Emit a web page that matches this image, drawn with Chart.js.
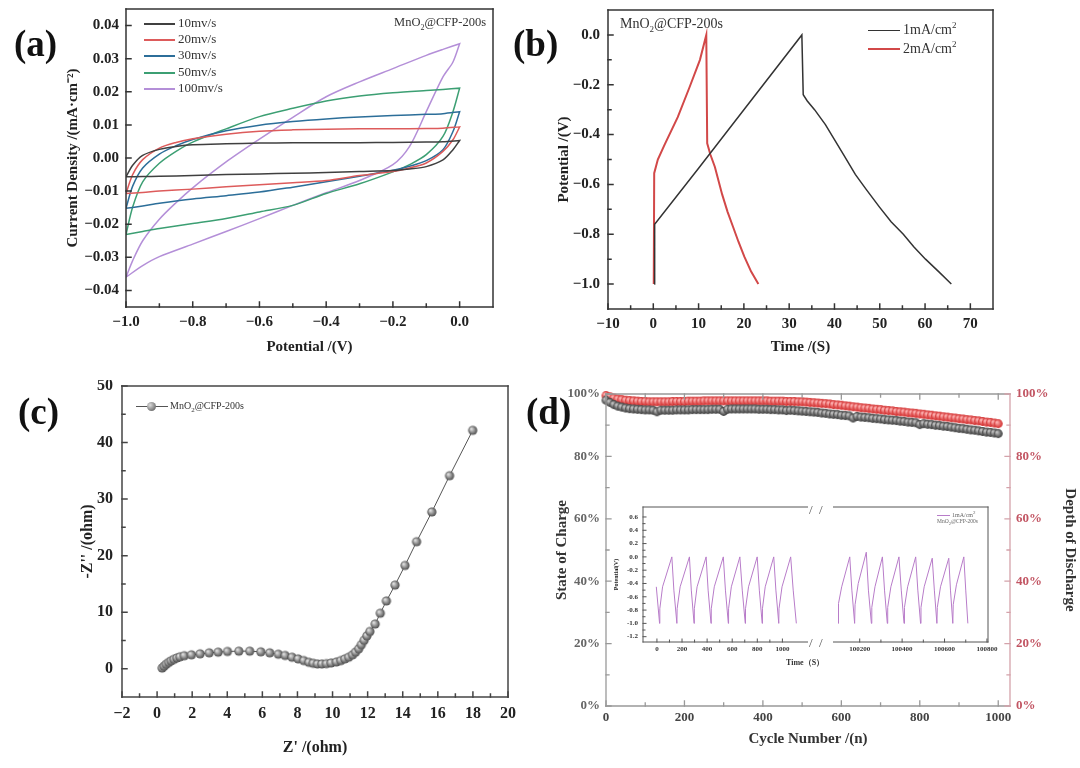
<!DOCTYPE html>
<html>
<head>
<meta charset="utf-8">
<title>MnO2@CFP-200s</title>
<script src="https://cdn.jsdelivr.net/npm/chart.js@4.4.1/dist/chart.umd.min.js"></script>
<style>
    body { margin: 0; background: #fff; font-family: "Liberation Serif", "Times New Roman", serif; }
    #page { position: relative; width: 1080px; height: 768px; overflow: hidden; }
    canvas { position: absolute; }
    .tag { position: absolute; font-weight: bold; font-size: 37px; line-height: 1; color: #111; }
    .txt { position: absolute; white-space: nowrap; line-height: 1; color: #333; }
    .leg { position: absolute; font-size: 13px; color: #333; white-space: nowrap; line-height: 13px; }
    .leg i { display: inline-block; width: 31px; height: 0; border-top: 2px solid; vertical-align: middle; margin-right: 3px; }
</style>
</head>
<body>
<div id="page">
    <canvas id="chartA" width="500" height="370" style="left:0;top:0"></canvas>
    <canvas id="chartB" width="580" height="370" style="left:500px;top:0"></canvas>
    <canvas id="chartC" width="540" height="388" style="left:0;top:380px"></canvas>
    <canvas id="chartD" width="540" height="388" style="left:540px;top:380px"></canvas>
    <canvas id="insetL" width="208" height="160" style="left:600px;top:500px"></canvas>
    <canvas id="insetR" width="177" height="160" style="left:833px;top:500px"></canvas>

    <div class="tag" style="left:14px;top:25px">(a)</div>
    <div class="tag" style="left:513px;top:25px">(b)</div>
    <div class="tag" style="left:18px;top:393px">(c)</div>
    <div class="tag" style="left:526px;top:393px">(d)</div>

    <!-- (a) legend -->
    <div class="leg" style="left:144px;top:16px"><i style="border-color:#404040"></i>10mv/s</div>
    <div class="leg" style="left:144px;top:32px"><i style="border-color:#dd5b5b"></i>20mv/s</div>
    <div class="leg" style="left:144px;top:48px"><i style="border-color:#2c6e99"></i>30mv/s</div>
    <div class="leg" style="left:144px;top:65px"><i style="border-color:#3c9f73"></i>50mv/s</div>
    <div class="leg" style="left:144px;top:81px"><i style="border-color:#b48fd8"></i>100mv/s</div>
    <div class="txt" style="left:380px;top:16px;width:106px;text-align:right;font-size:12.5px">MnO<sub style="font-size:8px">2</sub>@CFP-200s</div>

    <!-- (b) legend -->
    <div class="leg" style="left:868px;top:19px;font-size:14px"><i style="border-color:#333;width:32px;border-top-width:1.5px"></i>1mA/cm<sup style="font-size:9px">2</sup></div>
    <div class="leg" style="left:868px;top:38px;font-size:14px"><i style="border-color:#d24848;width:32px"></i>2mA/cm<sup style="font-size:9px">2</sup></div>
    <div class="txt" style="left:620px;top:17px;font-size:14px">MnO<sub style="font-size:9px">2</sub>@CFP-200s</div>

    <!-- (c) legend -->
    <div class="leg" style="left:136px;top:401px;font-size:10px;line-height:10px">
        <span style="display:inline-block;position:relative;width:32px;height:9px;vertical-align:middle;margin-right:2px">
            <span style="position:absolute;left:0;top:4px;width:32px;border-top:1px solid #555"></span>
            <span style="position:absolute;left:11px;top:0;width:9px;height:9px;border-radius:50%;background:radial-gradient(circle at 35% 35%,#dcdcdc,#4a4a4a)"></span>
        </span>MnO<sub style="font-size:7px">2</sub>@CFP-200s</div>

    <!-- (d) inset decorations -->
    <div class="txt" style="left:809px;top:503px;font-size:13px;color:#555">/&nbsp;&nbsp;/</div>
    <div class="txt" style="left:809px;top:636px;font-size:13px;color:#555">/&nbsp;&nbsp;/</div>
    <div class="txt" style="left:786px;top:659px;font-size:8px;font-weight:bold">Time（S）</div>
    <div class="txt" style="left:937px;top:510px;font-size:6px;color:#666"><i style="display:inline-block;width:13px;border-top:1px solid #b87cc9;vertical-align:middle;margin-right:2px"></i>1mA/cm<sup>2</sup></div>
    <div class="txt" style="left:937px;top:519px;font-size:5.5px;color:#666">MnO<sub>2</sub>@CFP-200s</div>
</div>

<script>
var SERIF = '"Liberation Serif", "Times New Roman", serif';
Chart.defaults.font.family = SERIF;
Chart.defaults.color = '#222';

// ---- (a) cyclic voltammetry ----
var aForwardV = [-1.0, -0.98, -0.95, -0.9, -0.85, -0.8, -0.7, -0.6, -0.5, -0.4, -0.3, -0.2, -0.1, -0.05, 0.0];
var aReverseV = [0.0, -0.02, -0.05, -0.1, -0.15, -0.2, -0.3, -0.4, -0.5, -0.6, -0.7, -0.8, -0.9, -0.95, -1.0];
var aFwd10 = [-0.0057, -0.0022, 0.0008, 0.0026, 0.0035, 0.004, 0.0043, 0.0045, 0.0046, 0.0046, 0.0046, 0.0047, 0.0048, 0.0049, 0.0053];
var aRev10 = [0.0053, 0.0025, -0.0006, -0.0026, -0.0033, -0.0038, -0.0041, -0.0044, -0.0046, -0.0048, -0.005, -0.0053, -0.0055, -0.0056, -0.0057];
var aFwd20 = [-0.0107, -0.005, -0.0005, 0.003, 0.0047, 0.0058, 0.0072, 0.0081, 0.0085, 0.0087, 0.0088, 0.0088, 0.0089, 0.009, 0.0094];
var aRev20 = [0.0094, 0.0055, 0.002, -0.0015, -0.003, -0.0041, -0.0053, -0.0068, -0.0075, -0.0081, -0.0087, -0.0094, -0.01, -0.0104, -0.0107];
var aFwd30 = [-0.0152, -0.0085, -0.003, 0.0012, 0.0037, 0.0056, 0.0082, 0.0099, 0.011, 0.0118, 0.0124, 0.0128, 0.0132, 0.0134, 0.014];
var aRev30 = [0.014, 0.008, 0.0025, -0.0008, -0.0025, -0.0037, -0.0055, -0.0072, -0.0088, -0.0103, -0.0114, -0.0124, -0.0137, -0.0145, -0.0152];
var aFwd50 = [-0.0231, -0.0148, -0.0072, -0.0016, 0.002, 0.0048, 0.0088, 0.0125, 0.015, 0.0172, 0.0187, 0.0197, 0.0204, 0.0207, 0.0211];
var aRev50 = [0.0211, 0.014, 0.0065, 0.001, -0.002, -0.0042, -0.0078, -0.0107, -0.0143, -0.0163, -0.0183, -0.0198, -0.0213, -0.0222, -0.0231];
var aFwd100 = [-0.036, -0.031, -0.025, -0.0185, -0.0135, -0.009, -0.0012, 0.0057, 0.0123, 0.0185, 0.023, 0.027, 0.031, 0.0328, 0.0345];
var aRev100 = [0.0345, 0.029, 0.0245, 0.014, 0.0035, -0.002, -0.0068, -0.0105, -0.0143, -0.0183, -0.0222, -0.026, -0.0298, -0.0325, -0.036];
var aRates = ['10mv/s', '20mv/s', '30mv/s', '50mv/s', '100mv/s'];
var aXTicks = [-1.0, -0.8, -0.6, -0.4, -0.2, 0.0];
var aYTicks = [-0.04, -0.03, -0.02, -0.01, 0.0, 0.01, 0.02, 0.03, 0.04];

// ---- (b) charge / discharge ----
var bTime1 = [0.2, 0.3, 10, 20, 32.8, 33.1, 34, 35.6, 38, 40, 42, 44.6, 47, 49.9, 52.5, 55.2, 57.5, 60.1, 63, 65.8];
var bVolt1 = [-1.0, -0.76, -0.535, -0.3, 0.0, -0.24, -0.265, -0.3, -0.36, -0.42, -0.48, -0.56, -0.62, -0.69, -0.75, -0.8, -0.85, -0.9, -0.95, -1.0];
var bTime2 = [0.1, 0.2, 1, 2.5, 5.4, 8, 10.3, 11.7, 11.9, 12.6, 13.6, 15.2, 16.4, 17.6, 18.8, 20.1, 21.6, 23.2];
var bVolt2 = [-1.0, -0.555, -0.5, -0.44, -0.33, -0.21, -0.1, 0.0, -0.435, -0.48, -0.53, -0.64, -0.71, -0.77, -0.83, -0.89, -0.95, -1.0];
var bXTicks = [-10, 0, 10, 20, 30, 40, 50, 60, 70];
var bYTicks = [-1.0, -0.8, -0.6, -0.4, -0.2, 0.0];

// ---- (c) Nyquist ----
var cZre = [0.29, 0.4, 0.52, 0.66, 0.8, 0.96, 1.13, 1.3, 1.55, 1.96, 2.45, 2.97, 3.48, 4.01, 4.66, 5.28, 5.91, 6.42, 6.91, 7.3, 7.69, 8.04, 8.36, 8.65, 8.9, 9.14, 9.39, 9.65, 9.92, 10.22, 10.47, 10.7, 10.92, 11.14, 11.31, 11.49, 11.64, 11.8, 11.96, 12.13, 12.43, 12.72, 13.07, 13.56, 14.13, 14.79, 15.66, 16.67, 17.99];
var cZim = [0.12, 0.45, 0.8, 1.12, 1.4, 1.66, 1.9, 2.1, 2.3, 2.46, 2.63, 2.81, 2.93, 3.05, 3.11, 3.11, 2.99, 2.81, 2.57, 2.34, 2.04, 1.74, 1.44, 1.14, 0.96, 0.84, 0.84, 0.9, 1.02, 1.2, 1.44, 1.74, 2.04, 2.46, 2.93, 3.53, 4.25, 5.03, 5.81, 6.59, 7.9, 9.82, 11.98, 14.79, 18.26, 22.46, 27.72, 34.13, 42.16];
var cXTicks = [-2, 0, 2, 4, 6, 8, 10, 12, 14, 16, 18, 20];
var cYTicks = [0, 10, 20, 30, 40, 50];

// ---- (d) cycling ----
var dCycle = [0, 10, 20, 30, 40, 50, 60, 70, 80, 90, 100, 110, 120, 130, 140, 150, 160, 170, 180, 190, 200, 210, 220, 230, 240, 250, 260, 270, 280, 290, 300, 310, 320, 330, 340, 350, 360, 370, 380, 390, 400, 410, 420, 430, 440, 450, 460, 470, 480, 490, 500, 510, 520, 530, 540, 550, 560, 570, 580, 590, 600, 610, 620, 630, 640, 650, 660, 670, 680, 690, 700, 710, 720, 730, 740, 750, 760, 770, 780, 790, 800, 810, 820, 830, 840, 850, 860, 870, 880, 890, 900, 910, 920, 930, 940, 950, 960, 970, 980, 990, 1000];
var dCharge = [98.0, 97.3, 96.6, 96.1, 95.8, 95.5, 95.3, 95.2, 95.1, 95.0,
    94.9, 94.9, 94.8, 94.3, 94.8, 94.8, 94.8, 94.8, 94.9, 94.9,
    94.9, 94.9, 95.0, 95.0, 95.0, 95.0, 95.0, 95.1, 95.1, 95.1,
    94.4, 95.1, 95.2, 95.2, 95.2, 95.2, 95.2, 95.2, 95.2, 95.1,
    95.1, 95.1, 95.0, 95.0, 94.9, 94.9, 94.7, 94.8, 94.7, 94.6,
    94.5, 94.4, 94.3, 94.2, 94.1, 93.9, 93.8, 93.6, 93.5, 93.4,
    93.2, 93.1, 93.0, 92.3, 92.8, 92.6, 92.5, 92.4, 92.2, 92.1,
    92.0, 91.8, 91.7, 91.6, 91.5, 91.3, 91.2, 91.0, 90.9, 90.8,
    90.2, 90.5, 90.3, 90.2, 90.0, 89.9, 89.7, 89.6, 89.4, 89.2,
    89.0, 88.9, 88.7, 88.5, 88.4, 88.2, 88.0, 87.8, 87.7, 87.5,
    87.3];
var dDischarge = [99.5, 99.1, 98.7, 98.4, 98.2, 98.0, 97.9, 97.8, 97.7, 97.6,
    97.6, 97.5, 97.5, 97.5, 97.5, 97.5, 97.5, 97.6, 97.6, 97.6,
    97.6, 97.7, 97.7, 97.7, 97.7, 97.8, 97.8, 97.8, 97.8, 97.8,
    97.8, 97.8, 97.8, 97.8, 97.8, 97.8, 97.8, 97.8, 97.8, 97.8,
    97.8, 97.8, 97.7, 97.7, 97.7, 97.7, 97.6, 97.6, 97.6, 97.5,
    97.5, 97.4, 97.3, 97.2, 97.1, 97.0, 96.9, 96.8, 96.6, 96.5,
    96.4, 96.2, 96.1, 95.9, 95.8, 95.6, 95.5, 95.4, 95.2, 95.1,
    95.0, 94.8, 94.7, 94.6, 94.4, 94.3, 94.2, 94.0, 93.9, 93.8,
    93.6, 93.5, 93.3, 93.2, 93.0, 92.9, 92.7, 92.6, 92.4, 92.3,
    92.1, 92.0, 91.8, 91.7, 91.5, 91.4, 91.2, 91.0, 90.9, 90.7,
    90.5];
var dXTicks = [0, 200, 400, 600, 800, 1000];
var dYTicks = [0, 20, 40, 60, 80, 100];

// ---- (d) inset, broken time axis ----
var inLeftTime = [-5, 21, 23, 45, 119, 135, 159, 161, 185, 259, 274, 296, 298, 320, 392, 408, 431, 433, 457, 529, 546, 569, 571, 593, 661, 680, 704, 706, 730, 799, 816, 839, 841, 863, 931, 948, 971, 973, 997, 1066, 1086, 1111];
var inLeftVolt = [-0.45, -1.0, -0.78, -0.45, 0.0, -0.5, -1.0, -0.78, -0.45, 0.0, -0.5, -1.0, -0.78, -0.45, 0.0, -0.5, -1.0, -0.78, -0.45, 0.0, -0.5, -1.0, -0.78, -0.45, 0.0, -0.5, -1.0, -0.78, -0.45, 0.0, -0.5, -1.0, -0.78, -0.45, 0.0, -0.5, -1.0, -0.78, -0.45, 0.0, -0.5, -1.0];
var inRightTime = [100098, 100100, 100115, 100153, 100163, 100176, 100178, 100193, 100231, 100241, 100255, 100257, 100272, 100307, 100317, 100330, 100332, 100347, 100385, 100396, 100409, 100411, 100426, 100464, 100474, 100487, 100489, 100504, 100542, 100552, 100564, 100566, 100581, 100620, 100628, 100639, 100641, 100656, 100691, 100700, 100710];
var inRightVolt = [-1.0, -0.7, -0.45, 0.0, -0.5, -1.0, -0.72, -0.4, 0.07, -0.5, -1.0, -0.76, -0.45, 0.0, -0.5, -1.0, -0.76, -0.45, 0.0, -0.5, -1.0, -0.76, -0.45, 0.0, -0.5, -1.0, -0.76, -0.45, -0.02, -0.5, -1.0, -0.76, -0.45, -0.02, -0.5, -1.0, -0.72, -0.42, 0.0, -0.5, -1.0];
var inLeftTicks = [0, 200, 400, 600, 800, 1000];
var inRightTicks = [100200, 100400, 100600, 100800];
var inYTicks = [-1.2, -1.0, -0.8, -0.6, -0.4, -0.2, 0.0, 0.2, 0.4, 0.6];

function toPoints(xs, ys) {
    return xs.map(function (x, i) { return { x: x, y: ys[i] }; });
}
function between(ticks) {
    var out = [];
    for (var i = 1; i < ticks.length; i++) out.push((ticks[i - 1] + ticks[i]) / 2);
    return out;
}
function minus(s) { return String(s).replace('-', '\u2212'); }

function makeBall(r, hi, lo) {
    var c = document.createElement('canvas');
    c.width = c.height = Math.ceil(r * 2) + 2;
    var g = c.getContext('2d'), m = c.width / 2;
    var grd = g.createRadialGradient(m - r * 0.35, m - r * 0.35, r * 0.1, m, m, r);
    grd.addColorStop(0, hi);
    grd.addColorStop(1, lo);
    g.fillStyle = grd;
    g.beginPath();
    g.arc(m, m, r, 0, Math.PI * 2);
    g.fill();
    return c;
}

// linear axis with fixed box size and tick values taken from an array
function axis(o) {
    return {
        type: 'linear',
        position: o.position,
        display: o.display !== false,
        min: o.min,
        max: o.max,
        grid: { display: false, drawTicks: false },
        border: { display: false },
        afterBuildTicks: function (scale) {
            scale.ticks = o.ticks.map(function (v) { return { value: v }; });
        },
        afterFit: function (scale) {
            if (scale.isHorizontal()) scale.height = o.size; else scale.width = o.size;
            // labels may overhang the plot box, do not let them shrink it
            scale.paddingTop = scale.paddingBottom = scale.paddingLeft = scale.paddingRight = 0;
        },
        ticks: {
            autoSkip: false, maxRotation: 0, minRotation: 0,
            font: { size: o.fontSize, weight: 'bold' },
            color: o.color || '#222',
            padding: o.pad,
            callback: o.fmt
        },
        title: {
            display: !!o.title,
            text: o.title,
            font: { size: o.titleSize || 15, weight: 'bold' },
            color: o.titleColor || '#222',
            padding: o.titlePad || 0
        }
    };
}

// box frame with inward tick marks
function framePlugin(cfg) {
    return {
        id: 'frame',
        afterDatasetsDraw: function (chart) {
            var ctx = chart.ctx, a = chart.chartArea;
            var lens = cfg.lens || [5, 3];
            ctx.save();
            ctx.lineWidth = cfg.width;
            ctx.lineCap = 'square';
            cfg.sides.forEach(function (s) {
                ctx.strokeStyle = s.color || cfg.color;
                ctx.beginPath();
                if (s.side === 'top') { ctx.moveTo(a.left, a.top); ctx.lineTo(a.right, a.top); }
                if (s.side === 'bottom') { ctx.moveTo(a.left, a.bottom); ctx.lineTo(a.right, a.bottom); }
                if (s.side === 'left') { ctx.moveTo(a.left, a.top); ctx.lineTo(a.left, a.bottom); }
                if (s.side === 'right') { ctx.moveTo(a.right, a.top); ctx.lineTo(a.right, a.bottom); }
                ctx.stroke();
                if (!s.scale) return;
                var sc = chart.scales[s.scale];
                ctx.beginPath();
                [[s.major, lens[0]], [s.minor || [], lens[1]]].forEach(function (set) {
                    set[0].forEach(function (v) {
                        var p = sc.getPixelForValue(v), len = set[1];
                        if (s.side === 'bottom') { ctx.moveTo(p, a.bottom); ctx.lineTo(p, a.bottom - len); }
                        if (s.side === 'top') { ctx.moveTo(p, a.top); ctx.lineTo(p, a.top + len); }
                        if (s.side === 'left') { ctx.moveTo(a.left, p); ctx.lineTo(a.left + len, p); }
                        if (s.side === 'right') { ctx.moveTo(a.right, p); ctx.lineTo(a.right - len, p); }
                    });
                });
                ctx.stroke();
            });
            ctx.restore();
        }
    };
}

var baseOptions = function (padding) {
    return {
        responsive: false,
        animation: false,
        events: [],
        layout: { padding: padding },
        plugins: { legend: { display: false }, tooltip: { enabled: false } }
    };
};

// ---------- (a) ----------
var aColors = ['#404040', '#dd5b5b', '#2c6e99', '#3c9f73', '#b48fd8'];
var aFwd = [aFwd10, aFwd20, aFwd30, aFwd50, aFwd100];
var aRev = [aRev10, aRev20, aRev30, aRev50, aRev100];
var optA = baseOptions({ top: 9, right: 7, left: 0, bottom: 0 });
optA.scales = {
    x: axis({ position: 'bottom', min: -1.0, max: 0.1, ticks: aXTicks, size: 63, fontSize: 15, pad: 6,
        fmt: function (v) { return minus(v.toFixed(1)); },
        title: 'Potential /(V)', titlePad: { bottom: 14 } }),
    y: axis({ position: 'left', min: -0.045, max: 0.045, ticks: aYTicks, size: 126, fontSize: 15, pad: 7,
        fmt: function (v) { return minus(v.toFixed(2)); },
        title: 'Current Density /(mA\u00B7cm\u207B\u00B2)', titlePad: { top: 64 } })
};
new Chart(document.getElementById('chartA'), {
    type: 'scatter',
    data: {
        datasets: aRates.map(function (name, i) {
            return {
                label: name,
                data: toPoints(aForwardV, aFwd[i]).concat(toPoints(aReverseV, aRev[i])),
                showLine: true, borderColor: aColors[i], borderWidth: 1.5,
                pointRadius: 0, tension: 0.3
            };
        })
    },
    options: optA,
    plugins: [framePlugin({ color: '#333', width: 1.5, sides: [
        { side: 'top' }, { side: 'right' },
        { side: 'bottom', scale: 'x', major: aXTicks, minor: between(aXTicks) },
        { side: 'left', scale: 'y', major: aYTicks, minor: [] }
    ] })]
});

// ---------- (b) ----------
var optB = baseOptions({ top: 10, right: 87, left: 0, bottom: 0 });
optB.scales = {
    x: axis({ position: 'bottom', min: -10, max: 75, ticks: bXTicks, size: 61, fontSize: 15, pad: 6,
        fmt: function (v) { return minus(v); },
        title: 'Time /(S)', titlePad: { bottom: 14 } }),
    y: axis({ position: 'left', min: -1.1, max: 0.1, ticks: bYTicks, size: 108, fontSize: 15, pad: 8,
        fmt: function (v) { return minus(v.toFixed(1)); },
        title: 'Potential /(V)', titlePad: { top: 55 } })
};
new Chart(document.getElementById('chartB'), {
    type: 'scatter',
    data: {
        datasets: [
            { label: '1mA/cm2', data: toPoints(bTime1, bVolt1), showLine: true, borderColor: '#333',
              borderWidth: 1.5, pointRadius: 0, tension: 0 },
            { label: '2mA/cm2', data: toPoints(bTime2, bVolt2), showLine: true, borderColor: '#d24848',
              borderWidth: 2, pointRadius: 0, tension: 0 }
        ]
    },
    options: optB,
    plugins: [framePlugin({ color: '#333', width: 1.5, sides: [
        { side: 'top' }, { side: 'right' },
        { side: 'bottom', scale: 'x', major: bXTicks, minor: between(bXTicks) },
        { side: 'left', scale: 'y', major: bYTicks, minor: between(bYTicks) }
    ] })]
});

// ---------- (c) ----------
var greyBall = makeBall(4.6, '#e2e2e2', '#4a4a4a');
var optC = baseOptions({ top: 6, right: 32, left: 0, bottom: 0 });
optC.scales = {
    x: axis({ position: 'bottom', min: -2, max: 20, ticks: cXTicks, size: 71, fontSize: 16, pad: 7,
        fmt: function (v) { return minus(v); },
        title: "Z' /(ohm)", titleSize: 16, titlePad: { bottom: 11 } }),
    y: axis({ position: 'left', min: -5, max: 50, ticks: cYTicks, size: 122, fontSize: 16, pad: 9,
        fmt: function (v) { return minus(v); },
        title: "-Z'' /(ohm)", titleSize: 16, titlePad: { top: 78 } })
};
new Chart(document.getElementById('chartC'), {
    type: 'scatter',
    data: {
        datasets: [{
            label: 'MnO2@CFP-200s', data: toPoints(cZre, cZim), showLine: true,
            borderColor: '#555', borderWidth: 1, pointStyle: greyBall, pointRadius: 4.6, clip: 6
        }]
    },
    options: optC,
    plugins: [framePlugin({ color: '#444', width: 1.5, sides: [
        { side: 'top' }, { side: 'right' },
        { side: 'bottom', scale: 'x', major: cXTicks, minor: between(cXTicks) },
        { side: 'left', scale: 'y', major: cYTicks, minor: between(cYTicks) }
    ] })]
});

// ---------- (d) ----------
var darkBall = makeBall(4.4, '#c4c4c4', '#3a3a3a');
var redBall = makeBall(4.4, '#ffb4b4', '#d02828');
var pct = function (v) { return v + '%'; };
var optD = baseOptions({ top: 14, right: 0, left: 0, bottom: 0 });
optD.scales = {
    x: axis({ position: 'bottom', min: 0, max: 1030, ticks: dXTicks, size: 62, fontSize: 13, pad: 4,
        color: '#444', fmt: function (v) { return String(v); },
        title: 'Cycle Number /(n)', titleColor: '#333', titlePad: { bottom: 20 } }),
    y: axis({ position: 'left', min: 0, max: 100, ticks: dYTicks, size: 66, fontSize: 13, pad: 6,
        color: '#666', fmt: pct, title: 'State of Charge', titleColor: '#333', titlePad: { top: 13 } }),
    y2: axis({ position: 'right', min: 0, max: 100, ticks: dYTicks, size: 70, fontSize: 13, pad: 6,
        color: '#c25563', fmt: pct, title: 'Depth of Discharge', titleColor: '#333', titlePad: { top: 1 } })
};
new Chart(document.getElementById('chartD'), {
    type: 'scatter',
    data: {
        datasets: [
            { label: 'State of Charge', data: toPoints(dCycle, dCharge), yAxisID: 'y',
              pointStyle: darkBall, pointRadius: 4.4, clip: 6 },
            { label: 'Depth of Discharge', data: toPoints(dCycle, dDischarge), yAxisID: 'y2',
              pointStyle: redBall, pointRadius: 4.4, clip: 6 }
        ]
    },
    options: optD,
    plugins: [framePlugin({ color: '#999', width: 1.3, sides: [
        { side: 'top', scale: 'x', major: dXTicks, minor: between(dXTicks) },
        { side: 'bottom', scale: 'x', major: dXTicks, minor: between(dXTicks) },
        { side: 'left', scale: 'y', major: dYTicks, minor: between(dYTicks) },
        { side: 'right', scale: 'y2', major: dYTicks, minor: between(dYTicks), color: '#d4a2aa' }
    ] })]
});

// ---------- (d) inset, two halves of a broken axis ----------
var insetLine = '#b87cc9';
var optL = baseOptions({ top: 7, right: 0, left: 0, bottom: 0 });
optL.scales = {
    x: axis({ position: 'bottom', min: -111, max: 1204, ticks: inLeftTicks, size: 18, fontSize: 7, pad: 3,
        color: '#333', fmt: function (v) { return String(v); } }),
    y: axis({ position: 'left', min: -1.28, max: 0.75, ticks: inYTicks, size: 43, fontSize: 7, pad: 5,
        color: '#333', fmt: function (v) { return v.toFixed(1); },
        title: 'Potential(V)', titleSize: 6, titlePad: { top: 13 } })
};
new Chart(document.getElementById('insetL'), {
    type: 'scatter',
    data: { datasets: [{ label: '1mA/cm2', data: toPoints(inLeftTime, inLeftVolt), showLine: true,
        borderColor: insetLine, borderWidth: 1, pointRadius: 0 }] },
    options: optL,
    plugins: [framePlugin({ color: '#555', width: 1, lens: [3, 2], sides: [
        { side: 'top' },
        { side: 'bottom', scale: 'x', major: inLeftTicks, minor: between(inLeftTicks) },
        { side: 'left', scale: 'y', major: inYTicks, minor: between(inYTicks) }
    ] })]
});

var optR = baseOptions({ top: 7, right: 22, left: 0, bottom: 0 });
optR.scales = {
    x: axis({ position: 'bottom', min: 100074, max: 100805, ticks: inRightTicks, size: 18, fontSize: 7, pad: 3,
        color: '#333', fmt: function (v) { return String(v); } }),
    y: axis({ position: 'left', display: false, min: -1.28, max: 0.75, ticks: inYTicks, size: 0, fontSize: 7, pad: 0 })
};
new Chart(document.getElementById('insetR'), {
    type: 'scatter',
    data: { datasets: [{ label: '1mA/cm2', data: toPoints(inRightTime, inRightVolt), showLine: true,
        borderColor: insetLine, borderWidth: 1, pointRadius: 0 }] },
    options: optR,
    plugins: [framePlugin({ color: '#555', width: 1, lens: [3, 2], sides: [
        { side: 'top' }, { side: 'right' },
        { side: 'bottom', scale: 'x', major: inRightTicks, minor: between(inRightTicks) }
    ] })]
});
</script>
</body>
</html>
